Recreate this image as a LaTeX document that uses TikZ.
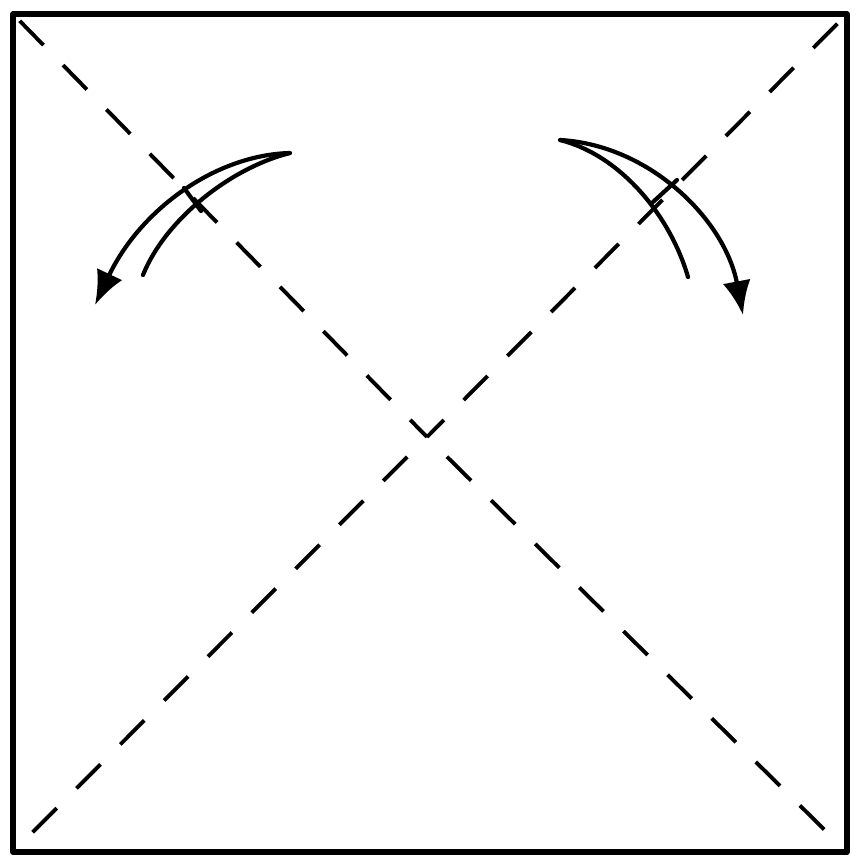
\documentclass[tikz,border=0pt]{standalone}
\usepackage{tikz}
\usetikzlibrary{arrows.meta}
\tikzset{
	sheet/.style   ={line width=1.5pt, line join=round},
	crease/.style  ={line width=1.1pt, dash pattern=on 3.4mm off 2.8mm},
	turnarrow/.style={-{Latex[length=3.4mm, width=2.8mm]}, line width=1.2pt},
	turnback/.style={line width=1.2pt, line cap=round},
}

\begin{document}
\begin{tikzpicture}[x=0.01cm, y=-0.01cm]
	\useasboundingbox (0,0) rectangle (858,863);
	% ---------- paper square ----------
	\coordinate (tl) at (13,14);
	\coordinate (tr) at (847,14);
	\coordinate (br) at (847,852);
	\coordinate (bl) at (13,852);
	\coordinate (mid) at (427,437);
	\draw[sheet] (tl) -- (tr) -- (br) -- (bl) -- cycle;
	% ---------- diagonal creases ----------
	\draw[crease, dash phase=1mm] (mid) -- (tl);
	\draw[crease, dash phase=1mm] (mid) -- (tr);
	\draw[crease, dash phase=3.4mm] (mid) -- (br);
	\draw[crease, dash phase=3.4mm] (mid) -- (bl);
	% ---------- left fold arrow ----------
	\coordinate (lstart) at (290,153);
	\coordinate (ltip) at (95,305);
	\coordinate (lend) at (143,275);
	\draw[turnarrow] (lstart) .. controls (215,155) and (140,210) .. (ltip);
	\draw[turnback] (lstart) .. controls (230,168) and (165,220) .. (lend);
	\draw[turnback] (184,188) -- (201,211);
	% ---------- right fold arrow ----------
	\coordinate (rstart) at (560,140);
	\coordinate (rtip) at (743,315);
	\coordinate (rend) at (688,277);
	\draw[turnarrow] (rstart) .. controls (650,145) and (725,220) .. (rtip);
	\draw[turnback] (rstart) .. controls (620,155) and (670,215) .. (rend);
	\draw[turnback] (653,202) -- (677,180);
\end{tikzpicture}
\end{document}
